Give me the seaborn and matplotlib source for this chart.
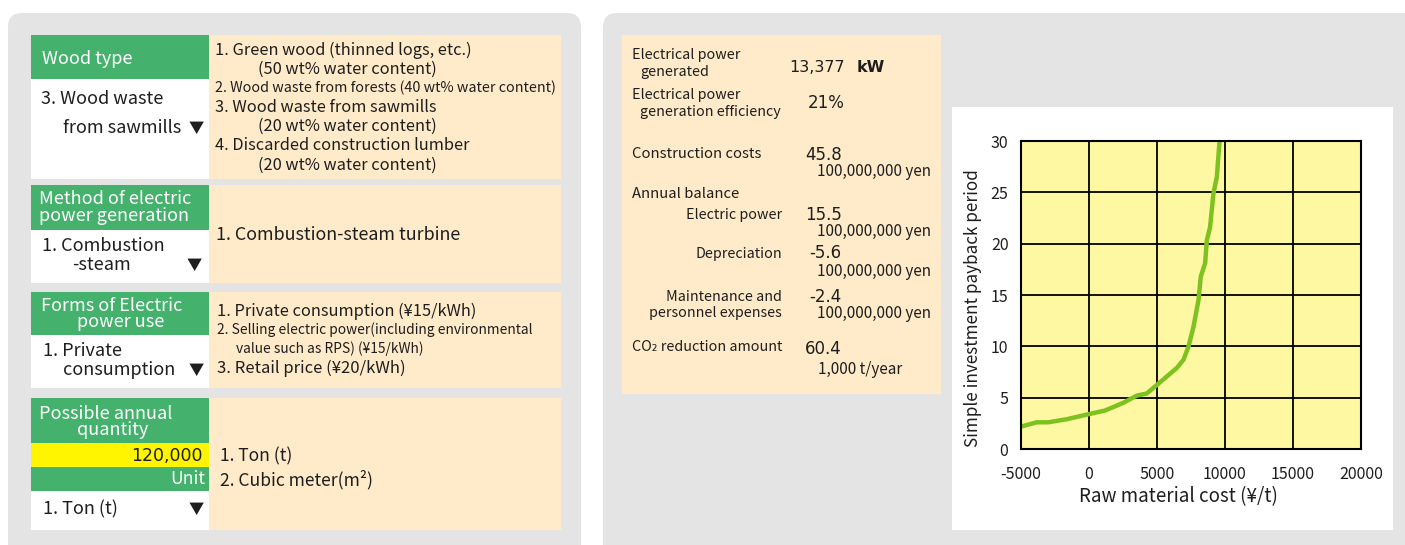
import numpy as np
import pandas as pd
import matplotlib
matplotlib.use("Agg")
import matplotlib.pyplot as plt
from matplotlib.patches import FancyBboxPatch, Rectangle
import seaborn as sns

# --- curve data: raw material cost vs simple payback period ---
raw_cost = [-4950, -3850, -3000, -1640, 0, 1180, 2530, 3510, 4240, 5000,
            6460, 6950, 7320, 7680, 8050, 8220, 8540, 8660, 8900, 9150, 9400, 9600]
payback_years = [2.2, 2.6, 2.6, 2.9, 3.4, 3.75, 4.5, 5.2, 5.4, 6.25,
                 7.9, 8.7, 10.0, 11.9, 14.5, 16.8, 18.1, 20.3, 21.6, 24.9, 26.5, 30.0]
x_ticks = [-5000, 0, 5000, 10000, 15000, 20000]
y_ticks = [0, 5, 10, 15, 20, 25, 30]

# --- result values ---
power_kw = "13,377"
efficiency = "21%"
construction = "45.8"
elec_power = "15.5"
depreciation = "-5.6"
maintenance = "-2.4"
co2 = "60.4"
quantity = "120,000"

GREEN = "#44B26D"
PEACH = "#FFEBC9"
GRAY = "#E4E4E4"
YELLOW = "#FFF500"
CHART_BG = "#FFF8A3"
LINE = "#7DC21E"
TXT = "#1E1E1E"

sns.set_theme(style="white")
plt.rcParams["font.family"] = ["Noto Sans CJK JP", "DejaVu Sans"]
plt.rcParams["axes.unicode_minus"] = False
NUM = ["DejaVu Sans"]

fig = plt.figure(figsize=(14.05, 5.45), dpi=100)
bg = fig.add_axes([0, 0, 1, 1])
bg.set_xlim(0, 1405)
bg.set_ylim(545, 0)
bg.axis("off")


def box(x0, y0, x1, y1, color, rounded=False):
    if rounded:
        p = FancyBboxPatch((x0, y0), x1 - x0, y1 - y0,
                           boxstyle="round,pad=0,rounding_size=14",
                           fc=color, ec="none")
    else:
        p = Rectangle((x0, y0), x1 - x0, y1 - y0, fc=color, ec="none")
    bg.add_patch(p)


def t(x, y, s, size=11, color=TXT, ha="left", weight="normal", family=None):
    kw = {}
    if family:
        kw["family"] = family
    bg.text(x, y, s, fontsize=size, color=color, ha=ha, va="center",
            fontweight=weight, **kw)


# panels
box(8, 13, 581, 575, GRAY, rounded=True)
box(603, 13, 1430, 575, GRAY, rounded=True)

# left form rows
rows = [(35, 79, 179), (185, 230, 283), (292, 335, 388)]
for top, mid, bot in rows:
    box(31, top, 209, mid, GREEN)
    box(31, mid, 209, bot, "white")
    box(209, top, 561, bot, PEACH)
box(31, 398, 209, 443, GREEN)
box(31, 443, 209, 467, YELLOW)
box(31, 467, 209, 491, GREEN)
box(31, 491, 209, 530, "white")
box(209, 398, 561, 530, PEACH)

HEAD = 13
CELL = 13
# row 1
t(42, 59, "Wood type", HEAD, "white")
t(41, 99, "3. Wood waste", CELL)
t(63, 128, "from sawmills", CELL)
t(196, 128, "▼", 11, ha="center")
t(215, 50, "1. Green wood (thinned logs, etc.)", 11.8)
t(258, 69, "(50 wt% water content)", 11.8)
t(215, 88, "2. Wood waste from forests (40 wt% water content)", 10.3)
t(215, 107, "3. Wood waste from sawmills", 11.8)
t(258, 126, "(20 wt% water content)", 11.8)
t(215, 145, "4. Discarded construction lumber", 11.8)
t(258, 165, "(20 wt% water content)", 11.8)

# row 2
t(39, 199, "Method of electric", HEAD, "white")
t(39, 216, "power generation", HEAD, "white")
t(42, 246, "1. Combustion", CELL)
t(72, 265, "-steam", CELL)
t(194, 265, "▼", 11, ha="center")
t(216, 235, "1. Combustion-steam turbine", 12.9)

# row 3
t(112, 306, "Forms of Electric", HEAD, "white", ha="center")
t(121, 322, "power use", HEAD, "white", ha="center")
t(43, 351, "1. Private", CELL)
t(63, 370, "consumption", CELL)
t(196, 370, "▼", 11, ha="center")
t(217, 311, "1. Private consumption (¥15/kWh)", 11.8)
t(217, 330, "2. Selling electric power(including environmental", 9.9)
t(236, 349, "value such as RPS) (¥15/kWh)", 9.9)
t(217, 368, "3. Retail price (¥20/kWh)", 12)

# row 4
t(106, 414, "Possible annual", HEAD, "white", ha="center")
t(113, 430, "quantity", HEAD, "white", ha="center")
t(203, 456, quantity, 12.5, ha="right", family=NUM)
t(205, 479, "Unit", 12.6, "white", ha="right")
t(43, 509, "1. Ton (t)", CELL)
t(196, 509, "▼", 11, ha="center")
t(220, 456, "1. Ton (t)", 12.6)
t(220, 480, "2. Cubic meter(m²)", 12.6)

# right results block
LAB = 10.3
NUMSZ = 12
UNIT = 11
box(622, 35, 941, 394, PEACH)
t(632, 55, "Electrical power", LAB)
t(640, 72, "generated", LAB)
t(789, 67, power_kw, 11.5, family=NUM)
t(857, 67, "kW", 11.5, weight="bold", family=NUM)
t(632, 95, "Electrical power", LAB)
t(640, 112, "generation efficiency", LAB)
t(808, 103, efficiency, NUMSZ, family=NUM)
t(632, 154, "Construction costs", 10.7)
t(805, 155, construction, NUMSZ, family=NUM)
t(817, 171, "100,000,000 yen", UNIT)
t(632, 194, "Annual balance", 10.7)
t(782, 215, "Electric power", LAB, ha="right")
t(805, 215, elec_power, NUMSZ, family=NUM)
t(817, 232, "100,000,000 yen", UNIT)
t(782, 254, "Depreciation", LAB, ha="right")
t(809, 253, depreciation, NUMSZ, family=NUM)
t(817, 271, "100,000,000 yen", UNIT)
t(782, 297, "Maintenance and", LAB, ha="right")
t(782, 313, "personnel expenses", LAB, ha="right")
t(809, 297, maintenance, NUMSZ, family=NUM)
t(817, 313, "100,000,000 yen", UNIT)
t(632, 347, "CO₂ reduction amount", LAB)
t(805, 349, co2, NUMSZ, family=NUM)
t(818, 370, "1,000 t/year", UNIT)

# white card behind chart
box(952, 107, 1393, 530, "white")

# chart
ax = fig.add_axes([1021 / 1405, (545 - 449) / 545, 340 / 1405, 308 / 545])
ax.set_facecolor(CHART_BG)
df = pd.DataFrame({"cost": raw_cost, "years": payback_years})
sns.lineplot(data=df, x="cost", y="years", ax=ax, color=LINE, linewidth=3.2)
ax.set_xlim(-5000, 20000)
ax.set_ylim(0, 30)
ax.set_xticks(x_ticks)
ax.set_yticks(y_ticks)
ax.grid(True, color="black", linewidth=1.3)
ax.set_axisbelow(True)
for sp in ax.spines.values():
    sp.set_visible(True)
    sp.set_color("black")
    sp.set_linewidth(1.5)
ax.tick_params(axis="both", length=0, labelsize=11.5, colors=TXT)
ax.tick_params(axis="x", pad=12)
ax.tick_params(axis="y", pad=9)
ax.set_xlabel("Raw material cost (¥/t)", fontsize=13.5, color=TXT)
ax.set_ylabel("Simple investment payback period", fontsize=12.3, color=TXT)
ax.xaxis.set_label_coords(0.462, -0.12)
ax.yaxis.set_label_coords(-0.115, 0.458)

fig.savefig("out.png", dpi=100)
